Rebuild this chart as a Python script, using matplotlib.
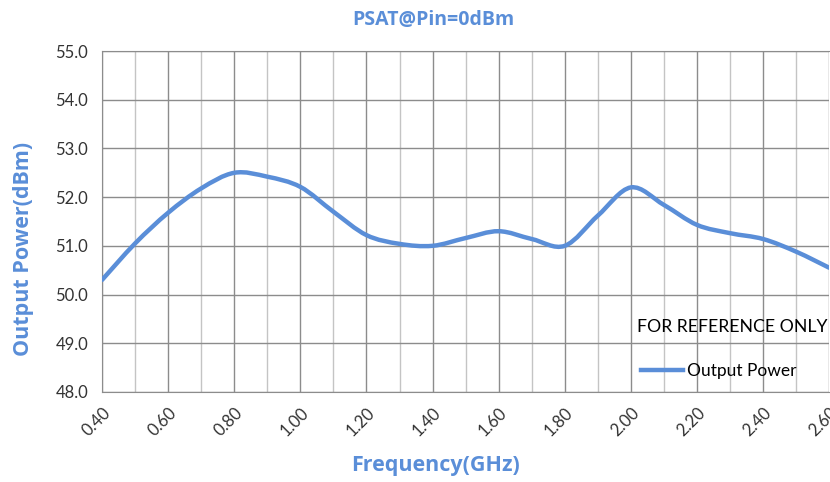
import numpy as np
import matplotlib.pyplot as plt
from matplotlib.path import Path
from matplotlib.patches import PathPatch
from matplotlib.lines import Line2D

# Frequency (GHz) and saturated output power (dBm)
freq = [0.4, 0.5, 0.6, 0.7, 0.8, 0.9, 1.0, 1.1, 1.2, 1.3, 1.4, 1.5,
        1.6, 1.7, 1.8, 1.9, 2.0, 2.1, 2.2, 2.3, 2.4, 2.5, 2.6]
power = [50.30, 51.05, 51.68, 52.18, 52.50, 52.42, 52.21, 51.70, 51.22, 51.04,
         51.00, 51.16, 51.30, 51.14, 51.00, 51.62, 52.20, 51.84, 51.43, 51.26,
         51.14, 50.88, 50.55]
xticks = [0.4, 0.6, 0.8, 1.0, 1.2, 1.4, 1.6, 1.8, 2.0, 2.2, 2.4, 2.6]
yticks = [48, 49, 50, 51, 52, 53, 54, 55]

blue = '#5A8ED8'
plt.rcParams['font.family'] = ['Open Sans', 'DejaVu Sans']

fig = plt.figure(figsize=(8.3, 4.82), dpi=100)
ax = fig.add_axes([0.123, 0.187, 0.876, 0.707])

# smoothed line (Excel-style), Bezier segments through the points
x = np.array(freq)
y = np.array(power)
verts = [(x[0], y[0])]
codes = [Path.MOVETO]
for i in range(len(x) - 1):
    p0 = (x[max(i - 1, 0)], y[max(i - 1, 0)])
    p1 = (x[i], y[i])
    p2 = (x[i + 1], y[i + 1])
    p3 = (x[min(i + 2, len(x) - 1)], y[min(i + 2, len(x) - 1)])
    c1 = (p1[0] + (p2[0] - p0[0]) / 6, p1[1] + (p2[1] - p0[1]) / 6)
    c2 = (p2[0] - (p3[0] - p1[0]) / 6, p2[1] - (p3[1] - p1[1]) / 6)
    verts += [c1, c2, p2]
    codes += [Path.CURVE4] * 3
ax.add_patch(PathPatch(Path(verts, codes), facecolor='none', edgecolor=blue,
                       lw=3.2, capstyle='round', joinstyle='round', zorder=3))

ax.set_xlim(0.4, 2.6)
ax.set_ylim(48, 55)
ax.set_xticks(xticks)
ax.set_xticks(np.arange(0.5, 2.6, 0.2), minor=True)
ax.set_yticks(yticks)
ax.set_xticklabels([f'{v:.2f}' for v in xticks], rotation=45, ha='right',
                   rotation_mode='anchor', fontsize=12, color='#333333',
                   family='Lato')
ax.set_yticklabels([f'{v:.1f}' for v in yticks], fontsize=12,
                   color='#333333', family='Lato')
ax.tick_params(which='both', length=0, pad=10)
ax.tick_params(axis='x', pad=9)

ax.grid(True, which='major', color='#8c8c8c', lw=1.0)
ax.grid(True, which='minor', axis='x', color='#c4c4c4', lw=1.0)
ax.set_axisbelow(True)
for s in ax.spines.values():
    s.set_color('#8c8c8c')
ax.spines['right'].set_visible(False)

fig.text(0.522, 0.958, 'PSAT@Pin=0dBm', ha='center', va='center',
         fontsize=14, fontweight='bold', color=blue)
ax.set_xlabel('Frequency(GHz)', fontsize=15.5, fontweight='bold', color=blue)
ax.xaxis.set_label_coords(0.459, -0.186)
ax.set_ylabel('Output Power(dBm)', fontsize=15.5, fontweight='bold', color=blue)
ax.yaxis.set_label_coords(-0.094, 0.42)

fig.text(0.767, 0.322, 'FOR REFERENCE ONLY', ha='left', va='center',
         fontsize=12.7, color='black', family='Lato')
handle = Line2D([], [], color=blue, lw=3.2)
ax.legend([handle], ['Output Power'], loc='center left',
          bbox_to_anchor=(0.741, 0.062), frameon=False,
          borderpad=0, borderaxespad=0,
          handlelength=2.4, handletextpad=0.25,
          prop={'family': 'Lato', 'size': 12.5})

fig.savefig('out.png', dpi=100)
